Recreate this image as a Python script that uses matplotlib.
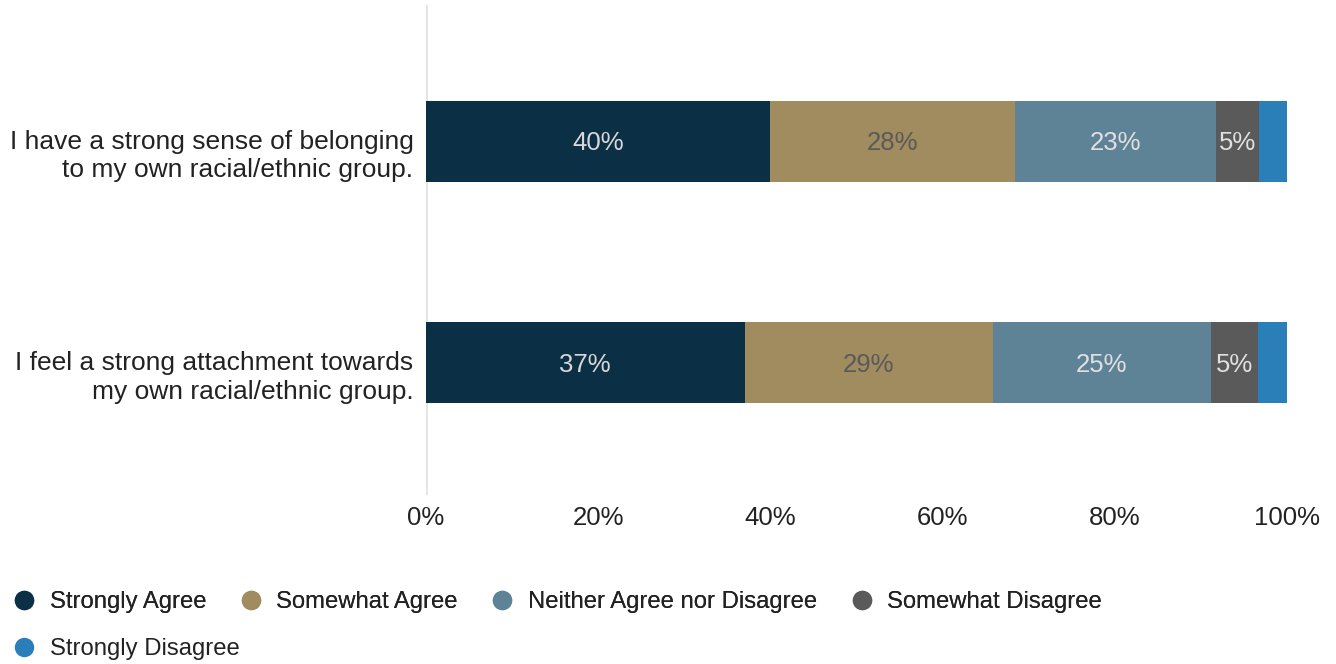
import matplotlib.pyplot as plt
import matplotlib.transforms as mtransforms
from matplotlib.lines import Line2D

plt.rcParams['font.family'] = ['Liberation Sans', 'DejaVu Sans']

# survey statements and response shares (%)
statements = ["I have a strong sense of belonging\nto my own racial/ethnic group.",
              "I feel a strong attachment towards\nmy own racial/ethnic group."]
responses = ["Strongly Agree", "Somewhat Agree", "Neither Agree nor Disagree",
             "Somewhat Disagree", "Strongly Disagree"]
strongly_agree = [40.0, 37.0]
somewhat_agree = [28.4, 28.8]
neither = [23.3, 25.4]
somewhat_disagree = [5.0, 5.4]
strongly_disagree = [3.3, 3.4]
xticks = [0, 20, 40, 60, 80, 100]

colors = ["#0B2F45", "#A08C5E", "#5F8396", "#5A5A5A", "#2A7FB8"]
label_colors = ["#D8D8D8", "#5A5A5A", "#E0E0E0", "#E0E0E0", None]

fig = plt.figure(figsize=(13.36, 6.64), dpi=100)
ax = fig.add_axes([426 / 1336, 1 - 495 / 664, 861 / 1336, 490 / 664])

series = [strongly_agree, somewhat_agree, neither, somewhat_disagree, strongly_disagree]
ypos = list(range(len(statements)))
left = [0.0] * len(statements)
for vals, col, lc in zip(series, colors, label_colors):
    bars = ax.barh(ypos, vals, left=left, height=0.365, color=col, linewidth=0, zorder=2)
    if lc is not None:
        for b, v in zip(bars, vals):
            ax.text(b.get_x() + b.get_width() / 2, b.get_y() + b.get_height() / 2 + 0.01,
                    f"{v:.0f}%", ha="center", va="center", fontsize=18.5, color=lc, zorder=3)
    left = [l + v for l, v in zip(left, vals)]

ax.set_xlim(0, 100)
ax.set_ylim(1.595, -0.613)
ax.set_xticks(xticks)
ax.set_xticklabels([f"{t}%" for t in xticks], fontsize=18.5, color="#222222")
ax.set_yticks(ypos)
ax.set_yticklabels(statements, fontsize=19, color="#222222", linespacing=1.24)
ax.tick_params(length=0)
ax.tick_params(axis="y", pad=9)
ax.tick_params(axis="x", pad=8)
# nudge the statement labels a little below the bar centres
shift = mtransforms.ScaledTranslation(0, -0.1, fig.dpi_scale_trans)
for lbl in ax.get_yticklabels():
    lbl.set_transform(lbl.get_transform() + shift)
for s in ax.spines.values():
    s.set_visible(False)
ax.axvline(0, color="#E3E3E3", linewidth=2, zorder=1)

# legend: four entries on the first line, the last one below
handles = [Line2D([], [], marker="o", linestyle="none", markersize=14,
                  markerfacecolor=c, markeredgewidth=0) for c in colors]
leg1 = fig.legend(handles[:4], responses[:4], loc="center left",
                  bbox_to_anchor=(0.004, 1 - 602 / 664), ncol=4, frameon=False,
                  fontsize=17.2, handlelength=1.0, handletextpad=0.55,
                  columnspacing=1.38, borderaxespad=0, borderpad=0.3)
fig.add_artist(leg1)
fig.legend(handles[4:], responses[4:], loc="center left",
           bbox_to_anchor=(0.004, 1 - 649 / 664), frameon=False,
           fontsize=17.2, handlelength=1.0, handletextpad=0.55,
           borderaxespad=0, borderpad=0.3)
for leg in fig.legends:
    for t in leg.get_texts():
        t.set_color("#222222")

fig.savefig("out.png", dpi=100)
